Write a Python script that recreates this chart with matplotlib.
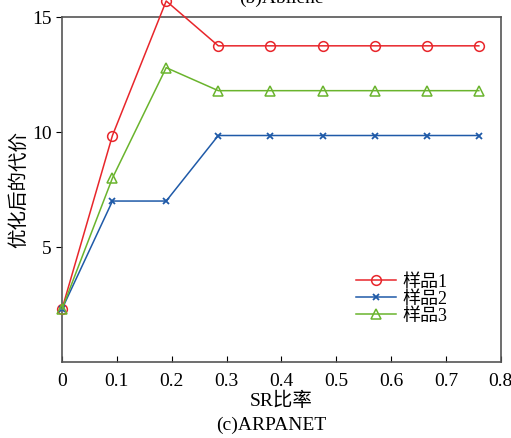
import matplotlib.pyplot as plt

plt.rcParams['font.family'] = ['Liberation Serif', 'Noto Sans CJK SC']

sr = [0, 0.092, 0.19, 0.285, 0.38, 0.475, 0.57, 0.665, 0.76]
sample1 = [2.3, 9.85, 15.7, 13.75, 13.75, 13.75, 13.75, 13.75, 13.75]
sample2 = [2.3, 7.0, 7.0, 9.85, 9.85, 9.85, 9.85, 9.85, 9.85]
sample3 = [2.3, 8.0, 12.8, 11.8, 11.8, 11.8, 11.8, 11.8, 11.8]
labels = ['样品1', '样品2', '样品3']
xticks = [0, 0.1, 0.2, 0.3, 0.4, 0.5, 0.6, 0.7, 0.8]
xticklabels = ['0', '0.1', '0.2', '0.3', '0.4', '0.5', '0.6', '0.7', '0.8']

fig = plt.figure(figsize=(5.11, 4.38), dpi=100)
ax = fig.add_axes([0.1213, 0.1735, 0.8587, 0.7875])

ax.plot(sr, sample1, color='#e8262b', marker='o', ms=7, mfc='none', mew=1.1, lw=1.1,
        label=labels[0], clip_on=False, zorder=3)
ax.plot(sr, sample2, color='#1f5aa8', marker='x', ms=4, mew=1.3, lw=1.1,
        label=labels[1], clip_on=False, zorder=3)
ax.plot(sr, sample3, color='#6ab42d', marker='^', ms=7, mfc='none', mew=1.1, lw=1.1,
        label=labels[2], clip_on=False, zorder=3)

ax.set_xlim(0, 0.8)
ax.set_ylim(0, 15)
ax.set_xticks(xticks)
ax.set_xticklabels(xticklabels)
ax.set_yticks([5, 10, 15])
ax.tick_params(axis='x', direction='in', length=4, labelsize=14, pad=8)
ax.tick_params(axis='y', direction='out', length=4, labelsize=14)
for s in ax.spines.values():
    s.set_color('#555555')
    s.set_linewidth(1.2)

ax.set_xlabel('SR比率', fontsize=14, labelpad=1)
ax.set_ylabel('优化后的代价', fontsize=14)
ax.yaxis.set_label_coords(-0.078, 0.5)

ax.legend(loc='lower right', bbox_to_anchor=(0.895, 0.087), frameon=False, fontsize=13,
          handlelength=2.2, labelspacing=0.0, handletextpad=0.35, borderaxespad=0)

fig.text(0.53, 0.028, '(c)ARPANET', ha='center', va='center', fontsize=14)
fig.text(0.55, 1.003, '(b)Abilene', ha='center', va='center', fontsize=14)

fig.savefig('out.png', dpi=100)
